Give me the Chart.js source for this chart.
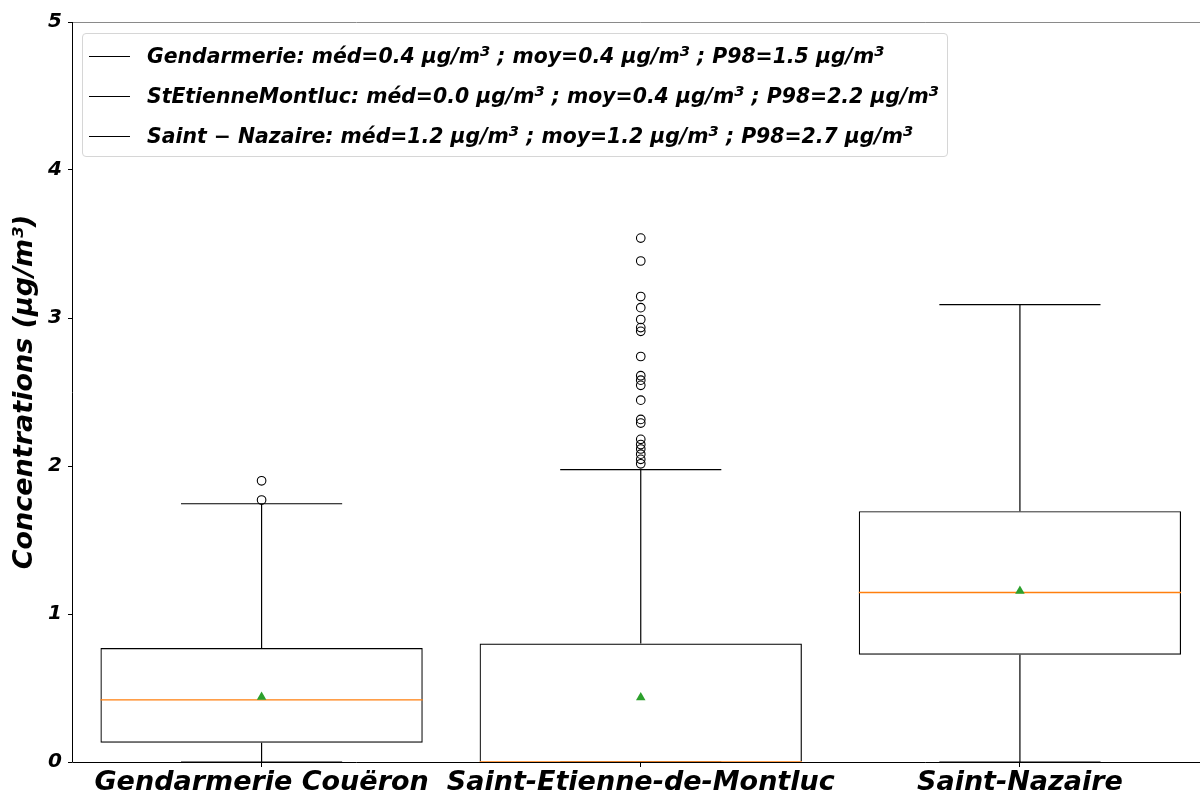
<!DOCTYPE html>
<html>
<head>
<meta charset="utf-8">
<script src="https://cdn.jsdelivr.net/npm/chart.js@4/dist/chart.umd.min.js"></script>
<style>
html, body { margin: 0; padding: 0; background: #fff; overflow: hidden; width: 1200px; height: 794px; }
#wrap { position: relative; width: 1215px; height: 794px; }
#legend {
    position: absolute; left: 82px; top: 33px; width: 866px; height: 124px;
    box-sizing: border-box; border: 1px solid #d6d6d6; border-radius: 4px;
    background: rgba(255,255,255,0.8);
    font-family: "DejaVu Sans"; font-weight: bold; font-style: italic; font-size: 20.4px; color: #000;
}
.row { position: absolute; left: 0; height: 40px; display: flex; align-items: center; white-space: nowrap; }
.swatch { width: 41px; height: 0; border-top: 1px solid #000; margin-left: 6px; margin-right: 17px; }
sup { font-size: 0.72em; line-height: 0; vertical-align: 0.5em; }
</style>
</head>
<body>
<div id="wrap">
    <canvas id="boxChart" width="1215" height="794"></canvas>
    <div id="legend"></div>
</div>
<script>
// categories + box statistics (µg/m3)
const categories = ['Gendarmerie Couëron', 'Saint-Etienne-de-Montluc', 'Saint-Nazaire'];
const q1 = [0.13, 0.0, 0.725];
const q3 = [0.77, 0.80, 1.695];
const medians = [0.42, 0.0, 1.145];
const means = [0.44, 0.435, 1.155];
const whiskerLow = [0, 0, 0];
const whiskerHigh = [1.745, 1.975, 3.09];

// fliers
const outliersGendarmerie = [1.90, 1.77];
const outliersStEtienne = [3.54, 3.385, 3.145, 3.07, 2.99, 2.935, 2.91, 2.74, 2.61, 2.58, 2.545,
    2.445, 2.315, 2.29, 2.18, 2.145, 2.115, 2.08, 2.045, 2.015];
const outliersNazaire = [];

// legend texts
const legendNames = ['Gendarmerie', 'StEtienneMontluc', 'Saint \u2212 Nazaire'];
const legendMed = ['0.4', '0.0', '1.2'];
const legendMoy = ['0.4', '0.4', '1.2'];
const legendP98 = ['1.5', '2.2', '2.7'];

const yTicks = [0, 1, 2, 3, 4, 5];

const boxWidth = 0.85;
const capHalf = boxWidth / 4;
const FONT = 'DejaVu Sans';

// build the html legend
const legendEl = document.getElementById('legend');
const unit = 'µg/m<sup>3</sup>';
legendNames.forEach((name, i) => {
    const row = document.createElement('div');
    row.className = 'row';
    row.style.top = (2 + i * 40) + 'px';
    row.innerHTML = `<span class="swatch"></span><span>${name}: méd=${legendMed[i]} ${unit} ; moy=${legendMoy[i]} ${unit} ; P98=${legendP98[i]} ${unit}</span>`;
    legendEl.appendChild(row);
});

// whiskers, caps, medians as broken line segments
const whiskerPts = [];
const medianPts = [];
categories.forEach((c, i) => {
    const x = i + 1;
    whiskerPts.push({ x: x, y: q3[i] }, { x: x, y: whiskerHigh[i] }, { x: x, y: null });
    whiskerPts.push({ x: x, y: q1[i] }, { x: x, y: whiskerLow[i] }, { x: x, y: null });
    whiskerPts.push({ x: x - capHalf, y: whiskerHigh[i] }, { x: x + capHalf, y: whiskerHigh[i] }, { x: x, y: null });
    whiskerPts.push({ x: x - capHalf, y: whiskerLow[i] }, { x: x + capHalf, y: whiskerLow[i] }, { x: x, y: null });
    medianPts.push({ x: x - boxWidth / 2, y: medians[i] }, { x: x + boxWidth / 2, y: medians[i] }, { x: x, y: null });
});

const outlierPts = [];
[outliersGendarmerie, outliersStEtienne, outliersNazaire].forEach((arr, i) => {
    arr.forEach(v => outlierPts.push({ x: i + 1, y: v }));
});

// spines on top of the boxes, like matplotlib
const spines = {
    id: 'spines',
    afterDatasetsDraw(chart) {
        const { ctx, chartArea: a } = chart;
        ctx.save();
        ctx.lineWidth = 1;
        ctx.strokeStyle = '#8a8a8a';
        ctx.beginPath();
        ctx.moveTo(a.left, a.top + 0.5);
        ctx.lineTo(a.right, a.top + 0.5);
        ctx.stroke();
        ctx.strokeStyle = '#000';
        ctx.beginPath();
        ctx.moveTo(a.left + 0.5, a.top);
        ctx.lineTo(a.left + 0.5, a.bottom + 0.5);
        ctx.lineTo(a.right, a.bottom + 0.5);
        ctx.stroke();
        ctx.restore();
    }
};

const tickFont = (size) => ({ family: FONT, weight: 'bold', style: 'italic', size: size });

new Chart(document.getElementById('boxChart'), {
    type: 'bar',
    data: {
        datasets: [
            {
                type: 'bar',
                data: categories.map((c, i) => ({ x: i + 1, y: [q1[i], q3[i]] })),
                backgroundColor: 'rgba(0,0,0,0)',
                borderColor: '#000',
                borderWidth: 1.2,
                // box sitting on zero: let the axis spine be its bottom edge
                borderSkipped: (ctx) => (q1[ctx.dataIndex] === 0 ? 'start' : false),
                barPercentage: boxWidth,
                categoryPercentage: 1,
                order: 5
            },
            {
                type: 'line',
                data: whiskerPts,
                borderColor: '#000',
                borderWidth: 1.2,
                pointRadius: 0,
                spanGaps: false,
                order: 4
            },
            {
                type: 'line',
                data: medianPts,
                borderColor: '#ff7f0e',
                borderWidth: 1.4,
                pointRadius: 0,
                spanGaps: false,
                order: 3
            },
            {
                type: 'scatter',
                data: outlierPts,
                pointStyle: 'circle',
                pointRadius: 4.3,
                borderColor: '#000',
                borderWidth: 1.1,
                backgroundColor: 'rgba(0,0,0,0)',
                order: 2
            },
            {
                type: 'scatter',
                data: categories.map((c, i) => ({ x: i + 1, y: means[i] })),
                pointStyle: 'triangle',
                pointRadius: 5.5,
                borderWidth: 0,
                backgroundColor: '#2ca02c',
                order: 1
            }
        ]
    },
    options: {
        responsive: false,
        animation: false,
        devicePixelRatio: 1,
        layout: { padding: { top: 22, right: 0, left: 0, bottom: 0 } },
        plugins: {
            legend: { display: false },
            tooltip: { enabled: false }
        },
        scales: {
            x: {
                type: 'linear',
                min: 0.5,
                max: 3.5,
                offset: false,
                afterBuildTicks: (scale) => {
                    scale.ticks = categories.map((c, i) => ({ value: i + 1 }));
                },
                afterFit: (scale) => { scale.height = 32; },
                ticks: {
                    autoSkip: false,
                    maxRotation: 0,
                    padding: 0,
                    color: '#000',
                    font: tickFont(27),
                    callback: (value) => categories[Math.round(value) - 1]
                },
                grid: { offset: false, drawOnChartArea: false, drawTicks: true, tickLength: 5, tickColor: '#000' },
                border: { display: false }
            },
            y: {
                min: 0,
                max: 5,
                afterBuildTicks: (scale) => {
                    scale.ticks = yTicks.map(v => ({ value: v }));
                },
                afterFit: (scale) => { scale.width = 72; },
                ticks: {
                    padding: 6,
                    color: '#000',
                    font: tickFont(20)
                },
                grid: { drawOnChartArea: false, drawTicks: true, tickLength: 4, tickColor: '#000' },
                border: { display: false },
                title: {
                    display: true,
                    text: 'Concentrations (µg/m³)',
                    color: '#000',
                    font: tickFont(27),
                    padding: { top: 9, bottom: 0 }
                }
            }
        }
    },
    plugins: [spines]
});
</script>
</body>
</html>
